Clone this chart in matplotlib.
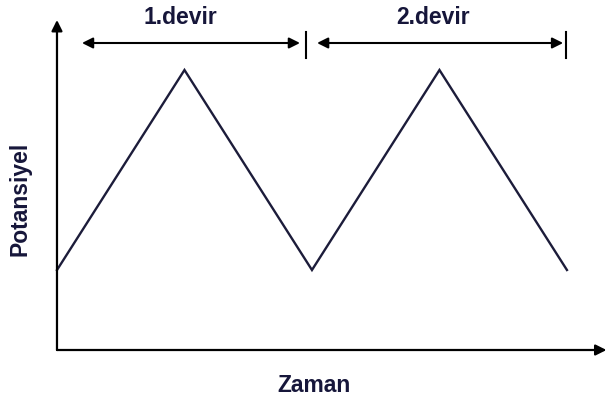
import matplotlib.pyplot as plt

# ucgen dalga verisi (zaman, potansiyel)
zaman = [0, 1, 2, 3, 4]
potansiyel = [0.4, 1.4, 0.4, 1.4, 0.4]

# devir etiketleri
devirler = ['1.devir', '2.devir']
devir_bas = [0.196, 2.04]
devir_son = [1.906, 3.97]
devir_cizgi = [1.953, 3.99]
etiket_x = [0.965, 2.95]

plt.rcParams['font.family'] = ['Liberation Sans', 'DejaVu Sans']

fig = plt.figure(figsize=(6.08, 4.03), dpi=100)
ax = fig.add_axes([0, 0, 1, 1])
ax.set_xlim(-0.447, 4.322)
ax.set_ylim(-0.265, 1.75)
ax.axis('off')

koyu = '#1c1c3a'
yazi = '#16163a'

# eksenler
ax.annotate('', xy=(0, 1.65), xytext=(0, 0),
            arrowprops=dict(arrowstyle='-|>', lw=1.6, color='k',
                            mutation_scale=16, shrinkA=0, shrinkB=0))
ax.annotate('', xy=(4.31, 0), xytext=(0, 0),
            arrowprops=dict(arrowstyle='-|>', lw=1.6, color='k',
                            mutation_scale=16, shrinkA=0, shrinkB=0))

# ucgen dalga
ax.plot(zaman, potansiyel, color=koyu, lw=1.7, solid_joinstyle='miter')

# devir oklari
for ad, bas, son, cz, ex in zip(devirler, devir_bas, devir_son, devir_cizgi, etiket_x):
    ax.annotate('', xy=(son, 1.535), xytext=(bas, 1.535),
                arrowprops=dict(arrowstyle='<|-|>', lw=1.5, color='k',
                                mutation_scale=16, shrinkA=0, shrinkB=0))
    ax.plot([cz, cz], [1.46, 1.59], color='k', lw=1.5)
    ax.text(ex, 1.66, ad, ha='center', va='center',
            fontsize=16.5, fontweight='bold', color=yazi)

ax.text(2.016, -0.18, 'Zaman', ha='center', va='center',
        fontsize=16.5, fontweight='bold', color=yazi)
ax.text(-0.29, 0.755, 'Potansiyel', ha='center', va='center', rotation=90,
        fontsize=16.5, fontweight='bold', color=yazi)

plt.savefig('out.png', dpi=100)
